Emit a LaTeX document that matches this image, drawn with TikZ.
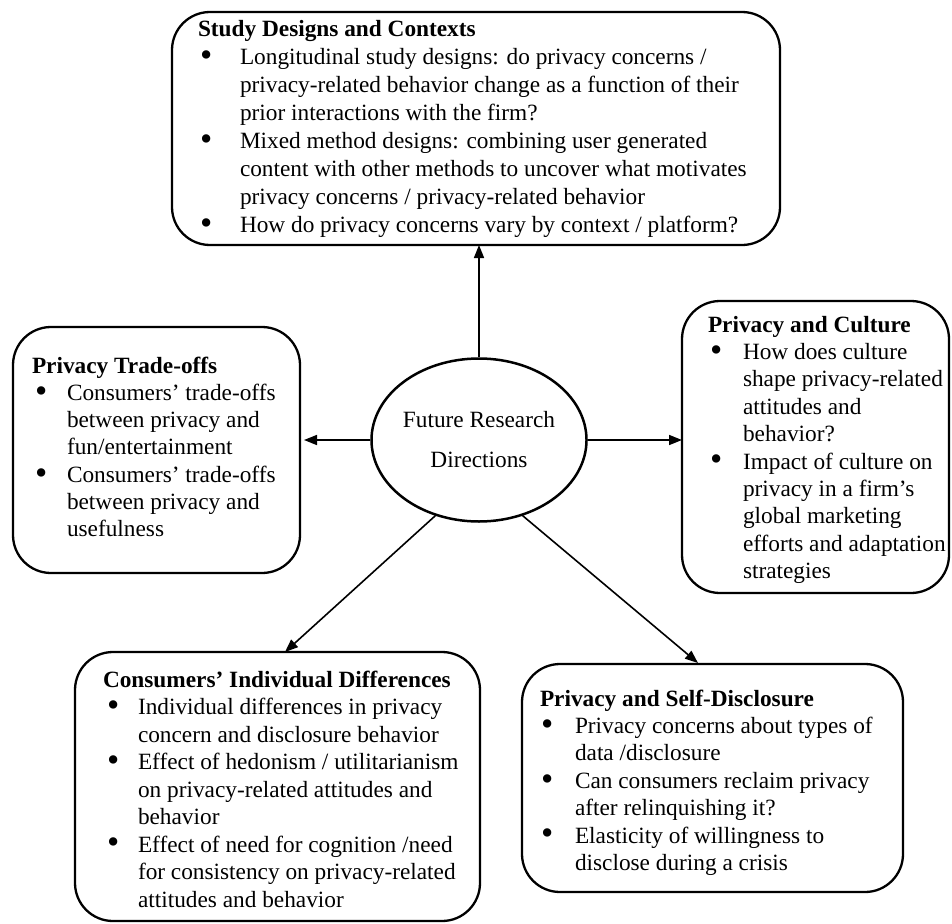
\documentclass[tikz,border=0pt]{standalone}
\usepackage{fontspec}
\setmainfont{Liberation Serif}
\usetikzlibrary{arrows.meta,shapes.geometric,calc}

\newcommand\bOff{0pt}
\newcommand\tOff{0pt}
\newcommand\offs[2]{\renewcommand\bOff{#1}\renewcommand\tOff{#2}}
\newcommand\bigbul{\smash{\raisebox{-1.8pt}{\scalebox{1.5}{\textbullet}}}}
\newcommand\bl[1]{\makebox[\tOff][l]{\hspace*{\bOff}\bigbul}#1}
\newcommand\cl[1]{\hspace*{\tOff}#1}

\tikzset{
  box/.style={draw=black, line width=2.3pt, rounded corners=38pt, fill=white,
    inner sep=0pt, outer sep=0pt, anchor=north west},
  txt/.style={inner sep=0pt, outer sep=0pt, anchor=base west,
    font=\fontsize{23.3}{27.5}\selectfont},
  hub/.style={ellipse, draw=black, line width=2.5pt, fill=white, inner sep=0pt,
    minimum width=175pt, minimum height=163pt, align=center,
    font=\fontsize{23.3}{40}\selectfont},
  arr/.style={line width=1.6pt, -{Triangle[length=13pt,width=10pt]}}
}

\begin{document}
\begin{tikzpicture}[x=1pt,y=-1pt]
\useasboundingbox[fill=white] (0,0) rectangle (952,923);

% boxes
\node[box, minimum width=608pt, minimum height=233pt] (top) at (172,12) {};
\node[box, minimum width=287pt, minimum height=246pt] (lft) at (13,327) {};
\node[box, minimum width=267pt, minimum height=292pt] (rgt) at (682,301) {};
\node[box, minimum width=405pt, minimum height=269pt] (bl) at (75,652) {};
\node[box, minimum width=381pt, minimum height=228pt] (br) at (522,664) {};

% hub
\node[hub] (c) at (479,440) {Future Research\\Directions};

% texts
\node[txt] (ttop) at (198,37) {\parbox[t]{700pt}{\fontsize{23.3}{28}\selectfont\offs{2pt}{42pt}%
\textbf{Study Designs and Contexts}\\
\bl{Longitudinal study designs: do privacy concerns /}\\
\cl{privacy-related behavior change as a function of their}\\
\cl{prior interactions with the firm?}\\
\bl{Mixed method designs: combining user generated}\\
\cl{content with other methods to uncover what motivates}\\
\cl{privacy concerns / privacy-related behavior}\\
\bl{How do privacy concerns vary by context / platform?}}};

\node[txt] (tlft) at (32,373) {\parbox[t]{400pt}{\fontsize{23.3}{27.3}\selectfont\offs{3pt}{35pt}%
\textbf{Privacy Trade-offs}\\
\bl{Consumers’ trade-offs}\\
\cl{between privacy and}\\
\cl{fun/entertainment}\\
\bl{Consumers’ trade-offs}\\
\cl{between privacy and}\\
\cl{usefulness}}};

\node[txt] (trgt) at (708,332) {\parbox[t]{400pt}{\fontsize{23.3}{27.4}\selectfont\offs{2pt}{35pt}%
\textbf{Privacy and Culture}\\
\bl{How does culture}\\
\cl{shape privacy-related}\\
\cl{attitudes and}\\
\cl{behavior?}\\
\bl{Impact of culture on}\\
\cl{privacy in a firm’s}\\
\cl{global marketing}\\
\cl{efforts and adaptation}\\
\cl{strategies}}};

\node[txt] (tbl) at (103,687) {\parbox[t]{500pt}{\fontsize{23.3}{27.5}\selectfont\offs{4pt}{35pt}%
\textbf{Consumers’ Individual Differences}\\
\bl{Individual differences in privacy}\\
\cl{concern and disclosure behavior}\\
\bl{Effect of hedonism / utilitarianism}\\
\cl{on privacy-related attitudes and}\\
\cl{behavior}\\
\bl{Effect of need for cognition /need}\\
\cl{for consistency on privacy-related}\\
\cl{attitudes and behavior}}};

\node[txt] (tbr) at (540,706) {\parbox[t]{500pt}{\fontsize{23.3}{27.4}\selectfont\offs{1pt}{35pt}%
\textbf{Privacy and Self-Disclosure}\\
\bl{Privacy concerns about types of}\\
\cl{data /disclosure}\\
\bl{Can consumers reclaim privacy}\\
\cl{after relinquishing it?}\\
\bl{Elasticity of willingness to}\\
\cl{disclose during a crisis}}};

% connector end points
\coordinate (blt) at ($(bl.north west)+(210,0)$);
\coordinate (brt) at ($(br.north west)+(176,-1)$);

% arrows
\draw[arr] (c.north) -- (c.north |- top.south);
\draw[arr, shorten >=4pt] (c.west) -- (c.west -| lft.east);
\draw[arr] (c.east) -- (c.east -| rgt.west);
\draw[arr] (c.240) -- (blt);
\draw[arr] (c.300) -- (brt);
\end{tikzpicture}
\end{document}
